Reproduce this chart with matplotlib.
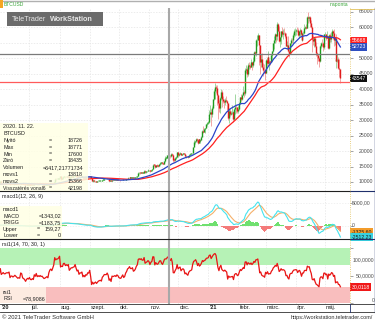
import numpy as np
import pandas as pd
import matplotlib
matplotlib.use("Agg")
import matplotlib.pyplot as plt
import matplotlib.transforms as mtransforms
from matplotlib.patches import Rectangle
from matplotlib.lines import Line2D

plt.rcParams['font.family'] = ['Liberation Sans', 'DejaVu Sans']

# BTCUSD daily candles from 2020-05-01, in thousand USD (open = previous close)
first_open = 8.62
close = [
    8.86, 8.99, 8.91, 8.89, 9.03, 9.16, 9.99, 9.81, 9.59, 8.76, 8.60, 8.82, 9.32, 9.79, 9.32, 9.38, 9.67, 9.73, 9.78, 9.51, 9.07, 9.17, 9.18, 8.79, 8.91, 8.84, 9.20, 9.58, 9.43, 9.70, 9.46,
    10.20, 9.52, 9.67, 9.80, 9.66, 9.66, 9.76, 9.79, 9.77, 9.87, 9.32, 9.48, 9.48, 9.39, 9.45, 9.54, 9.46, 9.39, 9.29, 9.33, 9.29, 9.68, 9.63, 9.30, 9.25, 9.16, 9.00, 9.12, 9.19, 9.14,
    9.23, 9.09, 9.07, 9.13, 9.07, 9.34, 9.25, 9.43, 9.23, 9.29, 9.24, 9.30, 9.24, 9.26, 9.19, 9.13, 9.15, 9.18, 9.21, 9.16, 9.39, 9.54, 9.60, 9.54, 9.70, 9.93, 11.03, 10.91, 11.10, 11.11, 11.32,
    11.80, 11.07, 11.23, 11.19, 11.74, 11.77, 11.60, 11.75, 11.68, 11.88, 11.41, 11.58, 11.78, 11.77, 11.87, 11.91, 12.25, 11.99, 11.76, 11.87, 11.50, 11.66, 11.65, 11.75, 11.32, 11.46, 11.32, 11.52, 11.48, 11.71, 11.68,
    11.97, 11.41, 10.25, 10.51, 10.17, 10.28, 10.37, 10.13, 10.24, 10.36, 10.40, 10.44, 10.33, 10.68, 10.79, 10.95, 10.95, 10.94, 11.09, 10.92, 10.42, 10.54, 10.24, 10.74, 10.69, 10.73, 10.78, 10.70, 10.84, 10.78,
    10.62, 10.57, 10.55, 10.67, 10.79, 10.60, 10.67, 10.92, 11.06, 11.30, 11.38, 11.54, 11.43, 11.43, 11.51, 11.32, 11.37, 11.50, 11.75, 11.92, 12.82, 12.97, 12.93, 13.11, 13.03, 13.03, 13.63, 13.27, 13.44, 13.55, 13.80,
    13.74, 13.55, 13.95, 14.13, 15.58, 15.57, 14.83, 15.48, 15.33, 15.30, 15.70, 16.28, 16.32, 16.07, 15.96, 16.72, 17.65, 17.80, 17.82, 18.62, 18.726, 18.435, 18.37, 19.16, 18.73, 17.15, 17.14, 17.72, 18.18, 19.63,
    18.80, 19.20, 19.45, 18.70, 19.15, 19.36, 19.17, 18.32, 18.55, 18.26, 18.06, 18.80, 19.14, 19.25, 19.44, 21.31, 22.81, 23.14, 23.87, 23.48, 22.75, 23.82, 23.24, 23.74, 24.71, 26.49, 26.28, 27.08, 27.36, 28.84, 29.00,
    29.37, 32.13, 32.78, 31.97, 33.99, 36.82, 39.37, 40.80, 40.25, 38.24, 35.54, 33.92, 37.32, 39.19, 36.82, 36.18, 35.79, 36.63, 36.07, 35.55, 30.83, 32.99, 32.08, 32.26, 32.37, 32.57, 30.43, 33.47, 34.32, 34.27, 33.11,
    33.52, 35.51, 37.47, 36.93, 38.14, 39.27, 38.90, 46.20, 46.48, 44.92, 47.91, 47.50, 47.11, 48.72, 47.94, 49.20, 52.15, 51.68, 55.89, 56.10, 57.54, 54.21, 48.82, 49.71, 47.07, 46.28, 46.11, 45.14,
    49.63, 48.38, 50.54, 48.56, 48.93, 48.91, 51.21, 52.38, 54.88, 55.96, 57.75, 57.23, 61.19, 59.00, 55.64, 56.80, 58.87, 57.86, 58.35, 58.09, 57.35, 54.10, 54.35, 52.30, 51.32, 55.03, 55.85, 55.78, 57.63, 58.73, 58.92,
    59.10, 59.03, 57.59, 58.76, 59.17, 58.03, 55.95, 58.08, 58.09, 59.86, 60.00, 59.86, 63.50, 63.11, 63.31, 61.57, 60.11, 56.22, 55.72, 56.47, 53.91, 51.76, 51.09, 50.05, 49.00, 54.02, 55.03, 54.82, 53.56, 57.75,
    57.83, 56.63, 57.20, 53.33, 57.42, 56.40, 57.36, 58.80, 58.23, 55.86, 56.70, 49.15, 49.72, 49.88, 46.76, 46.43, 43.547,
]
high = [
    9.03, 9.01, 9.19, 8.96, 9.08, 9.39, 10.03, 10.00, 9.86, 9.59, 9.03, 8.94, 9.36, 9.88, 9.81, 9.60, 9.87, 9.91, 9.89, 9.84, 9.57, 9.26, 9.30, 9.31, 8.96, 9.01, 9.22, 9.60, 9.60, 9.74, 9.70,
    10.43, 10.23, 9.68, 9.88, 9.85, 9.72, 9.80, 9.80, 9.79, 9.98, 9.95, 9.55, 9.49, 9.49, 9.53, 9.58, 9.54, 9.47, 9.40, 9.39, 9.41, 9.77, 9.68, 9.66, 9.32, 9.30, 9.20, 9.18, 9.22, 9.20,
    9.29, 9.25, 9.13, 9.18, 9.14, 9.36, 9.35, 9.45, 9.44, 9.31, 9.30, 9.33, 9.34, 9.28, 9.27, 9.20, 9.18, 9.20, 9.23, 9.22, 9.42, 9.55, 9.64, 9.62, 9.73, 10.00, 11.40, 11.24, 11.33, 11.16, 11.43,
    11.86, 12.03, 11.47, 11.41, 11.78, 11.90, 11.92, 11.80, 11.80, 12.05, 11.94, 11.62, 11.79, 11.96, 11.97, 11.97, 12.35, 12.39, 12.02, 11.88, 11.90, 11.67, 11.70, 11.80, 11.76, 11.52, 11.56, 11.54, 11.55, 11.71, 11.77,
    12.05, 11.97, 11.43, 10.70, 10.57, 10.35, 10.41, 10.44, 10.35, 10.49, 10.42, 10.46, 10.46, 10.77, 10.90, 11.09, 11.04, 11.03, 11.16, 11.09, 10.99, 10.57, 10.55, 10.77, 10.75, 10.75, 10.79, 10.94, 10.86, 10.85,
    10.93, 10.66, 10.60, 10.69, 10.79, 10.80, 10.68, 10.94, 11.10, 11.48, 11.43, 11.70, 11.56, 11.52, 11.55, 11.54, 11.40, 11.51, 11.79, 12.03, 13.18, 13.16, 13.00, 13.13, 13.17, 13.22, 13.76, 13.84, 13.59, 13.62, 14.05,
    13.86, 13.82, 14.03, 14.22, 15.74, 15.96, 15.75, 15.64, 15.84, 15.45, 15.93, 16.33, 16.45, 16.35, 16.12, 16.80, 17.80, 18.39, 18.02, 18.76, 18.94, 18.771, 18.75, 19.35, 19.39, 18.90, 17.90, 18.15, 18.30, 19.75,
    19.85, 19.31, 19.57, 19.50, 19.17, 19.39, 19.40, 19.29, 18.64, 18.56, 18.29, 18.90, 19.38, 19.31, 19.53, 21.47, 23.70, 23.29, 24.10, 24.27, 24.06, 23.84, 24.07, 23.78, 24.79, 26.72, 28.27, 27.39, 27.37, 28.90, 29.30,
    29.60, 33.16, 34.79, 33.60, 34.44, 36.88, 40.18, 41.95, 41.36, 41.33, 38.35, 36.63, 37.60, 39.97, 39.70, 37.95, 36.80, 37.30, 37.85, 36.42, 35.55, 33.78, 33.62, 32.94, 34.80, 32.92, 32.56, 33.78, 38.41, 34.83, 34.33,
    34.64, 35.90, 37.65, 38.59, 38.31, 40.96, 39.70, 46.74, 48.00, 47.18, 48.47, 48.89, 48.10, 49.70, 48.88, 50.54, 52.48, 52.50, 56.11, 57.51, 58.35, 57.50, 54.18, 51.27, 51.70, 48.40, 48.25, 46.72,
    49.79, 50.13, 52.54, 51.13, 49.41, 49.16, 51.45, 52.39, 54.90, 57.39, 58.07, 58.00, 61.68, 61.60, 60.57, 56.92, 58.95, 60.07, 59.47, 59.88, 58.55, 58.36, 55.75, 57.13, 53.20, 55.07, 56.57, 56.59, 58.23, 59.35, 59.80,
    59.47, 60.03, 59.88, 58.90, 59.67, 59.43, 58.64, 58.14, 58.87, 61.20, 60.62, 61.16, 63.70, 64.86, 63.76, 63.58, 62.55, 60.43, 57.53, 57.06, 56.71, 55.41, 52.02, 51.17, 50.51, 54.35, 55.43, 56.23, 55.14, 57.93,
    58.45, 57.99, 58.95, 57.04, 57.90, 58.33, 58.64, 59.46, 59.21, 59.51, 56.87, 57.89, 51.33, 51.44, 50.59, 49.65, 46.51,
]
low = [
    8.64, 8.75, 8.74, 8.58, 8.80, 8.94, 9.07, 9.69, 9.52, 8.58, 8.25, 8.62, 8.80, 9.26, 9.16, 9.22, 9.32, 9.47, 9.49, 9.42, 8.84, 8.93, 9.08, 8.72, 8.66, 8.79, 8.81, 9.07, 9.33, 9.36, 9.39,
    9.42, 9.27, 9.40, 9.54, 9.59, 9.59, 9.47, 9.60, 9.66, 9.73, 9.09, 9.27, 9.38, 9.28, 8.97, 9.34, 9.35, 9.31, 9.22, 9.21, 9.27, 9.28, 9.57, 9.23, 9.00, 9.06, 8.99, 8.97, 9.07, 9.08,
    9.09, 9.06, 9.05, 9.06, 8.94, 9.05, 9.20, 9.24, 9.19, 9.15, 9.19, 9.21, 9.20, 9.17, 9.15, 9.09, 9.09, 9.14, 9.13, 9.12, 9.16, 9.31, 9.45, 9.47, 9.53, 9.65, 9.91, 10.65, 10.87, 10.86, 10.98,
    11.23, 10.70, 11.01, 11.00, 11.09, 11.60, 11.40, 11.50, 11.58, 11.54, 11.15, 11.23, 11.30, 11.60, 11.68, 11.72, 11.84, 11.72, 11.55, 11.68, 11.46, 11.43, 11.54, 11.59, 11.24, 11.30, 11.14, 11.30, 11.42, 11.45, 11.63,
    11.62, 11.26, 10.19, 10.00, 9.88, 10.11, 9.94, 10.07, 10.12, 10.22, 10.25, 10.36, 10.26, 10.30, 10.64, 10.71, 10.84, 10.81, 10.88, 10.80, 10.38, 10.37, 10.20, 10.21, 10.62, 10.66, 10.63, 10.66, 10.64, 10.65,
    10.53, 10.39, 10.50, 10.52, 10.64, 10.56, 10.58, 10.63, 10.82, 11.04, 11.28, 11.24, 11.28, 11.28, 11.28, 11.24, 11.30, 11.32, 11.42, 11.70, 11.90, 12.68, 12.72, 12.90, 12.89, 12.80, 13.00, 13.07, 12.99, 13.22, 13.58,
    13.53, 13.30, 13.52, 13.69, 14.09, 15.22, 14.40, 14.79, 15.07, 14.92, 15.27, 15.50, 15.97, 15.80, 15.79, 15.87, 16.54, 17.23, 17.40, 17.74, 18.35, 17.600, 17.90, 18.11, 18.55, 16.34, 16.55, 16.90, 17.57, 18.18,
    18.01, 18.40, 18.90, 18.65, 18.61, 18.92, 18.95, 18.24, 17.69, 18.00, 17.61, 18.07, 18.76, 18.97, 19.06, 19.38, 21.25, 22.41, 22.80, 23.07, 22.16, 22.63, 22.82, 22.75, 23.50, 24.66, 25.89, 26.16, 25.94, 27.34, 27.99,
    28.80, 29.05, 32.05, 28.13, 31.03, 33.57, 36.57, 36.93, 38.70, 35.00, 30.42, 32.68, 32.35, 36.64, 34.41, 35.40, 33.85, 34.97, 35.84, 33.40, 30.07, 28.95, 31.50, 31.73, 32.00, 30.90, 29.30, 30.10, 31.99, 32.24, 32.24,
    32.30, 33.45, 35.38, 36.26, 36.57, 38.05, 37.40, 38.16, 45.17, 43.83, 44.35, 46.52, 46.41, 47.07, 46.35, 47.07, 48.98, 50.93, 50.86, 54.07, 56.04, 47.99, 45.00, 47.15, 46.95, 44.45, 45.14, 43.02,
    45.12, 47.61, 48.16, 47.63, 46.30, 47.99, 48.93, 49.37, 51.93, 53.07, 54.96, 55.26, 56.08, 58.90, 55.20, 53.75, 54.50, 57.14, 56.35, 57.85, 56.58, 53.90, 53.13, 52.06, 50.43, 51.44, 54.04, 55.10, 55.08, 57.03, 57.08,
    57.71, 58.62, 57.08, 56.58, 57.27, 57.48, 55.60, 55.77, 57.70, 58.02, 59.39, 59.40, 59.83, 61.53, 62.08, 60.27, 59.73, 51.95, 54.28, 53.52, 53.74, 50.70, 48.10, 49.11, 47.15, 48.88, 53.40, 54.10, 52.42, 53.10,
    57.07, 56.07, 56.50, 53.06, 52.95, 55.38, 55.30, 56.98, 56.32, 54.10, 54.29, 48.92, 46.98, 48.85, 46.56, 43.92, 42.10,
]

first_day = "2020-05-01"
left_day = "2020-06-01"
cursor_day = "2020-11-22"
month_days = ["2020-06-01", "2020-07-01", "2020-08-01", "2020-09-01", "2020-10-01", "2020-11-01",
              "2020-12-01", "2021-01-01", "2021-02-01", "2021-03-01", "2021-04-01", "2021-05-01"]
month_labels = ["'20", "júl.", "aug.", "szept.", "okt.", "nov.", "dec.", "'21", "febr.", "márc.", "ápr.", "máj."]
price_ticks = [10000, 15000, 20000, 25000, 30000, 35000, 40000, 45000, 50000, 55000, 60000, 65000]
gray_level = 51300
return_level = 42198

info_names = ["Nyitó", "Max", "Min", "Záró", "Volumen", "movs1", "movs2", "Visszatérés vonal6"]
info_values = ["18726", "18771", "17600", "18435", "=6417,21771734", "13818", "15366", "42198"]
macd_names = ["MACD", "TRIGG", "Upper", "Lower"]
macd_values = ["=1343,02", "=1183,75", "159,27", "0"]
rsi_value = "=78,9086"
last_tags = ["55668", "52723", "43547"]
last_tag_values = [55668, 52723, 43547]
macd_tag = "-1325,60"
macd_tag_value = -1325.60
rsi_tag = "30,0118"
rsi_tag_value = 30.0118

W, H = 375, 322
fig = plt.figure(figsize=(W / 100, H / 100), dpi=100)
fig.patch.set_facecolor("white")


def fx(px):
    return px / W


def fy(py):
    return 1 - py / H


def fig_line(xs, ys, **kw):
    fig.add_artist(Line2D([fx(v) for v in xs], [fy(v) for v in ys], transform=fig.transFigure, **kw))


def fig_box(x0, y0, x1, y1, **kw):
    fig.add_artist(Rectangle((fx(x0), fy(y1)), fx(x1) - fx(x0), fy(y0) - fy(y1),
                             transform=fig.transFigure, **kw))


def fig_text(x, y, s, **kw):
    kw.setdefault("fontsize", 3.9)
    kw.setdefault("color", "#202020")
    kw.setdefault("va", "center")
    kw.setdefault("zorder", 7)
    fig.text(fx(x), fy(y), s, **kw)


# prices and indicators
c = np.array(close) * 1000
h = np.array(high) * 1000
l = np.array(low) * 1000
o = np.r_[first_open * 1000, c[:-1]]
n = len(c)
assert len(h) == n and len(l) == n
x = (pd.Timestamp(first_day) - pd.Timestamp(left_day)).days + np.arange(n)
s = pd.Series(c)
movs1 = s.rolling(50, min_periods=1).mean()
movs2 = s.rolling(30, min_periods=1).mean()
macd = s.ewm(span=12, adjust=False).mean() - s.ewm(span=26, adjust=False).mean()
trigg = macd.ewm(span=9, adjust=False).mean()
hist = (macd - trigg).values
delta = s.diff().fillna(0)
gain = delta.clip(lower=0).ewm(alpha=1 / 14, adjust=False).mean()
loss = (-delta.clip(upper=0)).ewm(alpha=1 / 14, adjust=False).mean()
rsi = 100 - 100 / (1 + gain / loss)

month_x = [(pd.Timestamp(m) - pd.Timestamp(left_day)).days for m in month_days]
cursor_x = (pd.Timestamp(cursor_day) - pd.Timestamp(left_day)).days


def panel(top, bottom, ylim):
    ax = fig.add_axes([0, fy(bottom), fx(350), (bottom - top) / H])
    ax.set_xlim(-0.3, 359.9)
    ax.set_ylim(*ylim)
    for sp in ax.spines.values():
        sp.set_visible(False)
    ax.set_xticks([])
    ax.set_yticks([])
    for m in month_x[1:]:
        ax.axvline(m, color="#e4e4e4", lw=0.5, ls=(0, (2, 2)), zorder=0)
    ax.axvline(cursor_x, color="#a8a8a8", lw=1.5, zorder=4)
    return ax


def right_text(ax, v, txt, xpx, ha, **kw):
    tr = mtransforms.blended_transform_factory(fig.transFigure, ax.transData)
    ax.text(fx(xpx), v, txt, transform=tr, ha=ha, va="center", fontsize=3.7,
            color="#505050", clip_on=False, **kw)


def tag(ax, v, txt, fc, tc, dy=0):
    tr = mtransforms.blended_transform_factory(fig.transFigure, ax.transData)
    tr = tr + mtransforms.ScaledTranslation(0, dy / 100, fig.dpi_scale_trans)
    ax.text(fx(351.5), v, txt, transform=tr, ha="left", va="center", fontsize=3.7, color=tc,
            clip_on=False, zorder=8,
            bbox=dict(boxstyle="square,pad=0.25", fc=fc, ec="none"))


# main price panel
ax = panel(8, 191, (7088, 66294))
for v in price_ticks:
    ax.axhline(v, color="#e4e4e4", lw=0.5, ls=(0, (2, 2)), zorder=0)
up = c >= o
ax.vlines(x[up], l[up], h[up], color="#9ed69e", lw=0.7, zorder=2)
ax.vlines(x[~up], l[~up], h[~up], color="#f3a6a6", lw=0.7, zorder=2)
ax.vlines(x[up], o[up], np.maximum(c[up], o[up] + 150), color="#1e9a1e", lw=1.0, zorder=2)
ax.vlines(x[~up], c[~up], np.maximum(o[~up], c[~up] + 150), color="#e01c1c", lw=1.0, zorder=2)
ax.plot(x, movs1, color="#ff2020", lw=0.9, zorder=3)
ax.plot(x, movs2, color="#2a44c8", lw=0.9, zorder=3)
ax.axhline(gray_level, color="#7a7a7a", lw=0.9, zorder=3)
ax.axhline(return_level, color="#ff5a5a", lw=0.9, zorder=3)
ax.yaxis.tick_right()
ax.set_yticks(price_ticks)
ax.tick_params(axis="y", length=2, width=0.5, color="#808080", labelright=False, labelleft=False)
for v in price_ticks:
    if v != 55000:  # sits under the moving-average tags
        right_text(ax, v, str(v), 373, "right")
tag(ax, last_tag_values[0], last_tags[0], "#ff2020", "white")
tag(ax, last_tag_values[1], last_tags[1], "#2f4fc0", "white", dy=3)
tag(ax, last_tag_values[2], last_tags[2], "#101010", "white")

# MACD panel
axm = panel(191, 239, (-2955, 7730))
axm.axhline(0, color="#ececec", lw=0.5, ls=(0, (2, 2)), zorder=0)
axm.axhline(5000, color="#ececec", lw=0.5, ls=(0, (2, 2)), zorder=0)
axm.bar(x, hist, width=1.0, color=np.where(hist >= 0, "#6fe06f", "#f47a7a"), linewidth=0, zorder=2)
axm.plot(x, trigg, color="#f5b06a", lw=0.8, zorder=3)
axm.plot(x, macd, color="#45e3ee", lw=0.8, zorder=3)
axm.yaxis.tick_right()
axm.set_yticks([0, 5000])
axm.tick_params(axis="y", length=2, width=0.5, color="#808080", labelright=False, labelleft=False)
right_text(axm, 5000, "5000,00", 352, "left")
right_text(axm, 0, "0", 351.5, "left")
tag(axm, macd_tag_value, macd_tag, "#f39c2a", "#202020")
tag(axm, macd.values[-1], f"{macd.values[-1]:.2f}".replace(".", ","), "#38d2e2", "#202020")

# RSI panel
axr = panel(239, 303.5, (-0.5, 117))
axr.axhspan(70, 100, color="#b6f2b6", lw=0, zorder=0)
axr.axhspan(0, 30, color="#f9bebe", lw=0, zorder=0)
axr.plot(x, rsi, color="#e81414", lw=0.9, zorder=3)
axr.yaxis.tick_right()
axr.set_yticks([0, 50, 100])
axr.tick_params(axis="y", length=2, width=0.5, color="#808080", labelright=False, labelleft=False)
tag(axr, rsi_tag_value, rsi_tag, "#f01818", "white")
fig_text(374.5, 260, "100,0000", ha="right", fontsize=3.7, color="#505050")
fig_text(374.5, 276, "50,0000", ha="right", fontsize=3.7, color="#505050")
fig_text(374.5, 300, "0", ha="right", fontsize=3.7, color="#505050")

# info boxes
fig_box(0, 123, 88, 190.5, fc="#ffffe4", ec="none", alpha=0.85, zorder=5)
fig_text(3, 127, "2020. 11. 22.")
fig_text(3, 133.8, "BTCUSD")
for i, (name, val) in enumerate(zip(info_names, info_values)):
    yy = 140.6 + 6.8 * i
    fig_text(3, yy, name, fontsize=3.6 if len(name) > 10 else 3.9)
    if not val.startswith("="):
        fig_text(48.5, yy, "=")
    fig_text(83, yy, val, ha="right")

fig_box(0, 205.5, 62, 238.5, fc="#ffffe4", ec="none", alpha=0.85, zorder=5)
fig_text(3, 209.5, "macd1")
for i, (name, val) in enumerate(zip(macd_names, macd_values)):
    yy = 216 + 6.5 * i
    fig_text(3, yy, name)
    if not val.startswith("="):
        fig_text(37, yy, "=")
    fig_text(61, yy, val, ha="right")

fig_box(0, 287, 46, 303, fc="#fffff0", ec="none", alpha=0.7, zorder=5)
fig_text(3, 292.5, "rsi1")
fig_text(3, 298.8, "RSI")
fig_text(45.5, 298.8, rsi_value, ha="right")

fig_text(2, 196.5, "macd1(12, 26, 9)")
fig_text(2, 244.5, "rsi1(14, 70, 30, 1)")

# header
fig_line([0, 375], [0.5, 0.5], color="#b0b0b0", lw=1.0)
fig_box(0, 0, 2.5, 8, fc="#f5a623", ec="none", zorder=6)
fig_text(4, 4.5, "BTCUSD", color="#3aa53a", fontsize=3.6)
fig_text(330, 4.5, "naponta", color="#3aa53a", fontsize=3.6)
fig_box(7, 12, 103, 26, fc="#6b6b6b", ec="none", zorder=6)
fig_text(12, 19.2, "TeleTrader", color="#e6e6e6", fontsize=5.2)
fig_text(50, 19.2, "WorkStation", color="#e6e6e6", fontsize=5.2, fontweight="bold")

# frame lines
fig_line([0, 350], [191, 191], color="#202020", lw=0.8, zorder=8)
fig_line([0, 350], [239, 239], color="#202020", lw=0.8, zorder=8)
fig_line([350, 375], [191, 191], color="#1f2f6b", lw=0.8, zorder=8)
fig_line([350, 375], [239, 239], color="#1f2f6b", lw=0.8, zorder=8)
fig_line([0, 375], [303.8, 303.8], color="#303030", lw=0.6, zorder=8)
fig_line([0, 375], [311.8, 311.8], color="#303030", lw=0.6, zorder=8)
fig_line([350, 350], [8, 303.8], color="#e2c15a", lw=0.6, ls=":", zorder=8)
fig_line([350, 375], [8.5, 8.5], color="#e2c15a", lw=0.6, zorder=8)
fig_line([350, 350], [303.8, 311.8], color="#1f2f6b", lw=0.6, zorder=8)
fig_line([374.5, 374.5], [8, 311.8], color="#1f2f6b", lw=1.0, zorder=8)

# month labels
for m, lab in zip(month_x, month_labels):
    px = m * 350 / 360.2 + 1.5
    bold = lab.startswith("'")
    fig_text(px, 307.8, lab, fontsize=4.0, fontweight="bold" if bold else "normal")

fig_text(2, 317.5, "© 2021 TeleTrader Software GmbH", fontsize=4.2, color="#303030")
fig_text(373, 318, "https://workstation.teletrader.com/", ha="right", fontsize=4.0, color="#303030")

fig.savefig("out.png", dpi=100)
